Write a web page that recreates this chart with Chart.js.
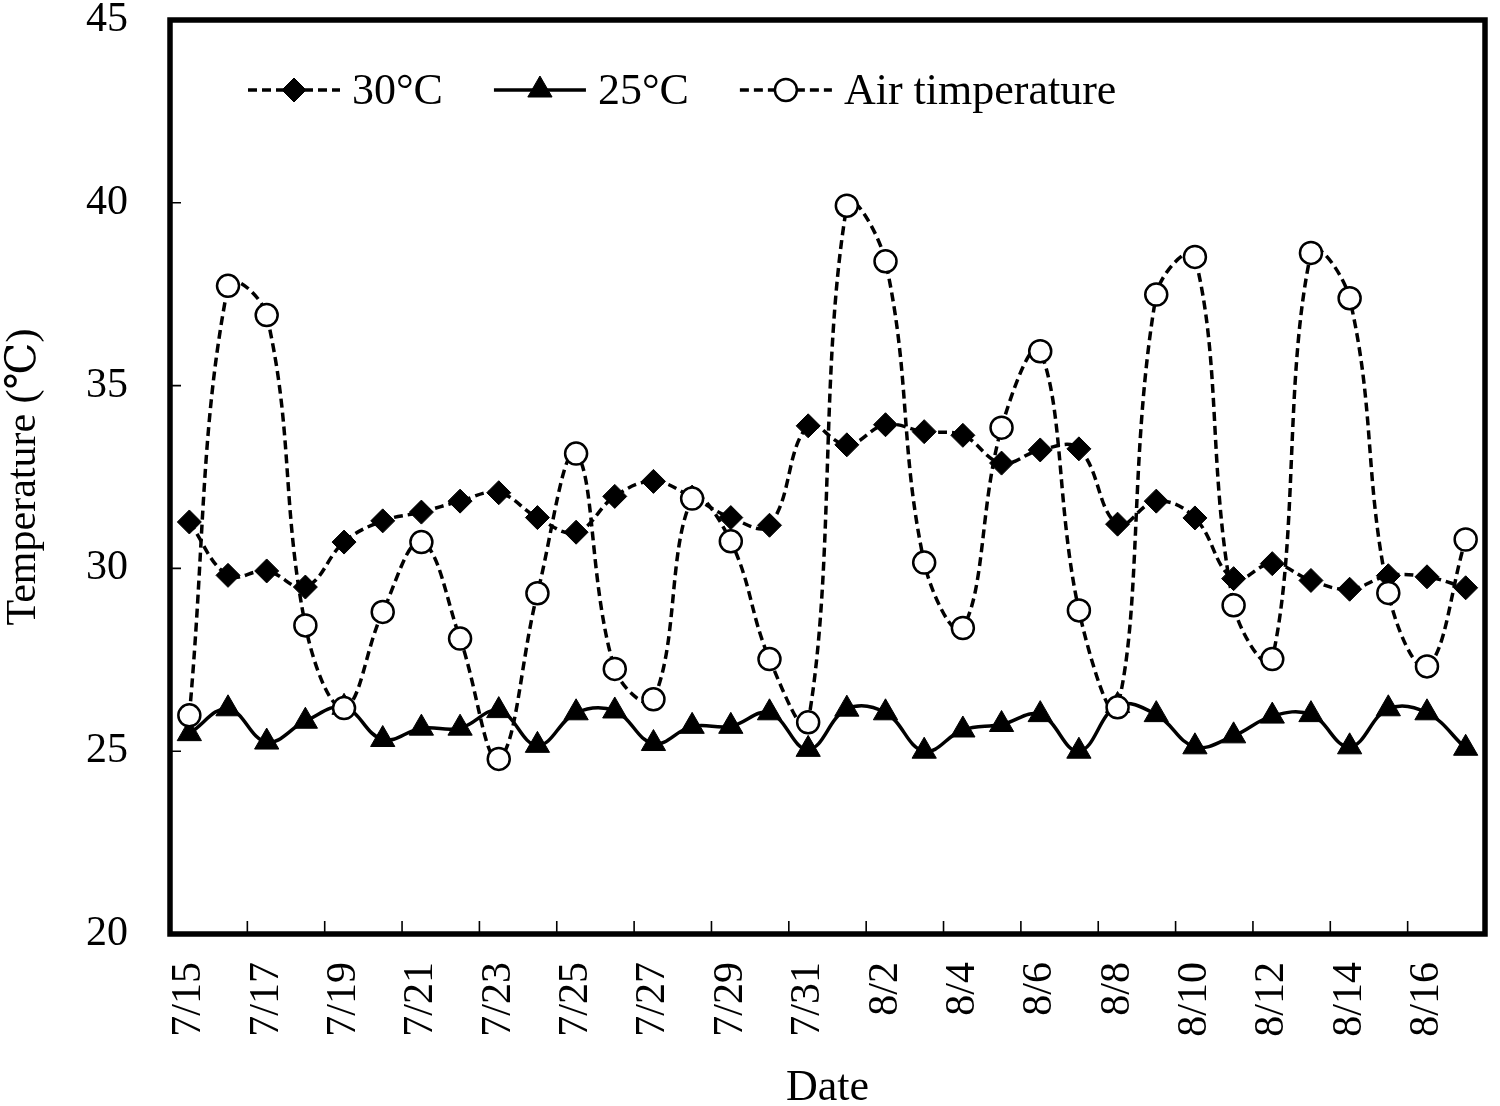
<!DOCTYPE html>
<html lang="en">
<head>
    <meta charset="UTF-8">
    <title>Temperature</title>
    <script src="https://cdn.jsdelivr.net/npm/chart.js"></script>
    <style>
        html, body { margin: 0; padding: 0; background: #fff; }
        #wrap { width: 1500px; height: 1106px; }
    </style>
</head>
<body>
    <div id="wrap"><canvas id="tempChart" width="1500" height="1106"></canvas></div>

    <script>
        // Fechas (eje X)
        const dates = ['7/15','7/16','7/17','7/18','7/19','7/20','7/21','7/22','7/23','7/24',
            '7/25','7/26','7/27','7/28','7/29','7/30','7/31','8/1','8/2','8/3','8/4','8/5',
            '8/6','8/7','8/8','8/9','8/10','8/11','8/12','8/13','8/14','8/15','8/16','8/17'];

        // Series
        const temp30 = [31.27, 29.81, 29.93, 29.49, 30.72, 31.30, 31.54, 31.84, 32.07, 31.39,
            30.99, 31.97, 32.38, 31.95, 31.39, 31.18, 33.90, 33.38, 33.93, 33.74, 33.64, 32.88,
            33.24, 33.27, 31.21, 31.84, 31.38, 29.72, 30.13, 29.67, 29.43, 29.80, 29.77, 29.47];
        const temp25 = [25.48, 26.16, 25.25, 25.82, 26.20, 25.32, 25.63, 25.63, 26.11, 25.16,
            26.05, 26.10, 25.21, 25.68, 25.68, 26.05, 25.05, 26.15, 26.05, 25.00, 25.58, 25.73,
            26.00, 25.00, 26.25, 26.00, 25.12, 25.42, 25.96, 26.00, 25.12, 26.16, 26.05, 25.08];
        const airTemp = [25.98, 37.73, 36.93, 28.44, 26.18, 28.81, 30.72, 28.08, 24.79, 29.32,
            33.14, 27.25, 26.42, 31.91, 30.74, 27.52, 25.79, 39.92, 38.40, 30.16, 28.37, 33.85,
            35.94, 28.85, 26.20, 37.49, 38.52, 28.99, 27.52, 38.63, 37.39, 29.33, 27.32, 30.79];

        const yTicks = [20, 25, 30, 35, 40, 45];
        const seriesNames = ['30°C', '25°C', 'Air timperature'];

        const serif = "'Liberation Serif', 'Times New Roman', 'DejaVu Serif', serif";
        Chart.defaults.color = '#000';
        Chart.defaults.font.family = serif;

        // Dibujar marcador (rombo, triángulo, círculo)
        function drawMarker(ctx, style, x, y, r, fill, borderWidth) {
            ctx.save();
            ctx.beginPath();
            if (style === 'rectRot') {
                ctx.moveTo(x, y - r); ctx.lineTo(x + r, y); ctx.lineTo(x, y + r); ctx.lineTo(x - r, y);
            } else if (style === 'triangle') {
                ctx.moveTo(x, y - r);
                ctx.lineTo(x + r * Math.sin(Math.PI / 3), y + r / 2);
                ctx.lineTo(x - r * Math.sin(Math.PI / 3), y + r / 2);
            } else {
                ctx.arc(x, y, r, 0, Math.PI * 2);
            }
            ctx.closePath();
            ctx.fillStyle = fill;
            ctx.fill();
            ctx.setLineDash([]);
            ctx.lineWidth = borderWidth;
            ctx.strokeStyle = '#000';
            ctx.stroke();
            ctx.restore();
        }

        // Quitar el relleno automático de los ejes
        function fixPadding(s) {
            s.paddingTop = 0; s.paddingBottom = 0; s.paddingLeft = 0; s.paddingRight = 0;
        }

        // Marco, marcas interiores y leyenda
        const framePlugin = {
            id: 'frame',
            afterDraw(chart) {
                const { ctx, chartArea: a, scales } = chart;
                ctx.save();
                ctx.strokeStyle = '#000';
                ctx.lineWidth = 1.6;
                ctx.beginPath();
                yTicks.slice(1, -1).forEach(v => {
                    const py = scales.y.getPixelForValue(v);
                    ctx.moveTo(a.left, py); ctx.lineTo(a.left + 11, py);
                });
                for (let k = 2; k < dates.length; k += 2) {
                    const px = scales.x.getPixelForValue(k - 0.5);
                    ctx.moveTo(px, a.bottom); ctx.lineTo(px, a.bottom - 13);
                }
                ctx.stroke();
                ctx.lineWidth = 5.5;
                ctx.strokeRect(a.left, a.top, a.right - a.left, a.bottom - a.top);

                // Leyenda
                ctx.font = '44px ' + serif;
                ctx.textBaseline = 'middle';
                ctx.fillStyle = '#000';
                let x = a.left + 78;
                const y = a.top + 70;
                chart.data.datasets.slice().sort((p, q) => q.order - p.order).forEach(ds => {
                    ctx.lineWidth = ds.borderWidth;
                    ctx.setLineDash(ds.borderDash || []);
                    ctx.beginPath();
                    ctx.moveTo(x, y); ctx.lineTo(x + 92, y);
                    ctx.stroke();
                    drawMarker(ctx, ds.pointStyle, x + 46, y, ds.pointRadius, ds.pointBackgroundColor, ds.pointBorderWidth);
                    ctx.setLineDash([]);
                    ctx.fillText(ds.label, x + 104, y + 2);
                    x += 104 + ctx.measureText(ds.label).width + 51;
                });
                ctx.restore();
            }
        };

        const ctx = document.getElementById('tempChart').getContext('2d');
        const chart = new Chart(ctx, {
            type: 'line',
            data: {
                labels: dates,
                datasets: [
                    { label: seriesNames[0], data: temp30, order: 3, borderColor: '#000', borderWidth: 3.5,
                      borderDash: [9, 5], tension: 0.4, pointStyle: 'rectRot', pointRadius: 12,
                      pointBackgroundColor: '#000', pointBorderColor: '#000', pointBorderWidth: 1 },
                    { label: seriesNames[1], data: temp25, order: 2, borderColor: '#000', borderWidth: 3.5,
                      borderDash: [], tension: 0.4, pointStyle: 'triangle', pointRadius: 14,
                      pointBackgroundColor: '#000', pointBorderColor: '#000', pointBorderWidth: 1 },
                    { label: seriesNames[2], data: airTemp, order: 1, borderColor: '#000', borderWidth: 3.5,
                      borderDash: [9, 5], tension: 0.4, pointStyle: 'circle', pointRadius: 11,
                      pointBackgroundColor: '#fff', pointBorderColor: '#000', pointBorderWidth: 2.5 }
                ]
            },
            options: {
                responsive: false,
                animation: false,
                events: [],
                layout: { padding: { top: 20, right: 7, left: 0, bottom: 0 } },
                plugins: { legend: { display: false }, tooltip: { enabled: false } },
                scales: {
                    x: {
                        offset: true,
                        grid: { display: false, drawTicks: false },
                        border: { display: false },
                        ticks: {
                            autoSkip: false, minRotation: 90, maxRotation: 90, padding: 28,
                            font: { size: 42, lineHeight: 1 },
                            callback: (v, i) => (i % 2 === 0 ? dates[i] : '')
                        },
                        title: { display: true, text: 'Date', font: { size: 44, lineHeight: 0.8 }, padding: 0 },
                        afterFit: s => { s.height = 172; fixPadding(s); }
                    },
                    y: {
                        min: yTicks[0], max: yTicks[yTicks.length - 1],
                        grid: { display: false, drawTicks: false },
                        border: { display: false },
                        afterBuildTicks: s => { s.ticks = yTicks.map(v => ({ value: v })); },
                        ticks: { padding: 42, font: { size: 42, lineHeight: 0.9 } },
                        title: { display: true, text: 'Temperature (℃)', font: { size: 42, lineHeight: 1 }, padding: { top: 3, bottom: 0 } },
                        afterFit: s => { s.width = 170; fixPadding(s); }
                    }
                }
            },
            plugins: [framePlugin]
        });
    </script>
</body>
</html>
